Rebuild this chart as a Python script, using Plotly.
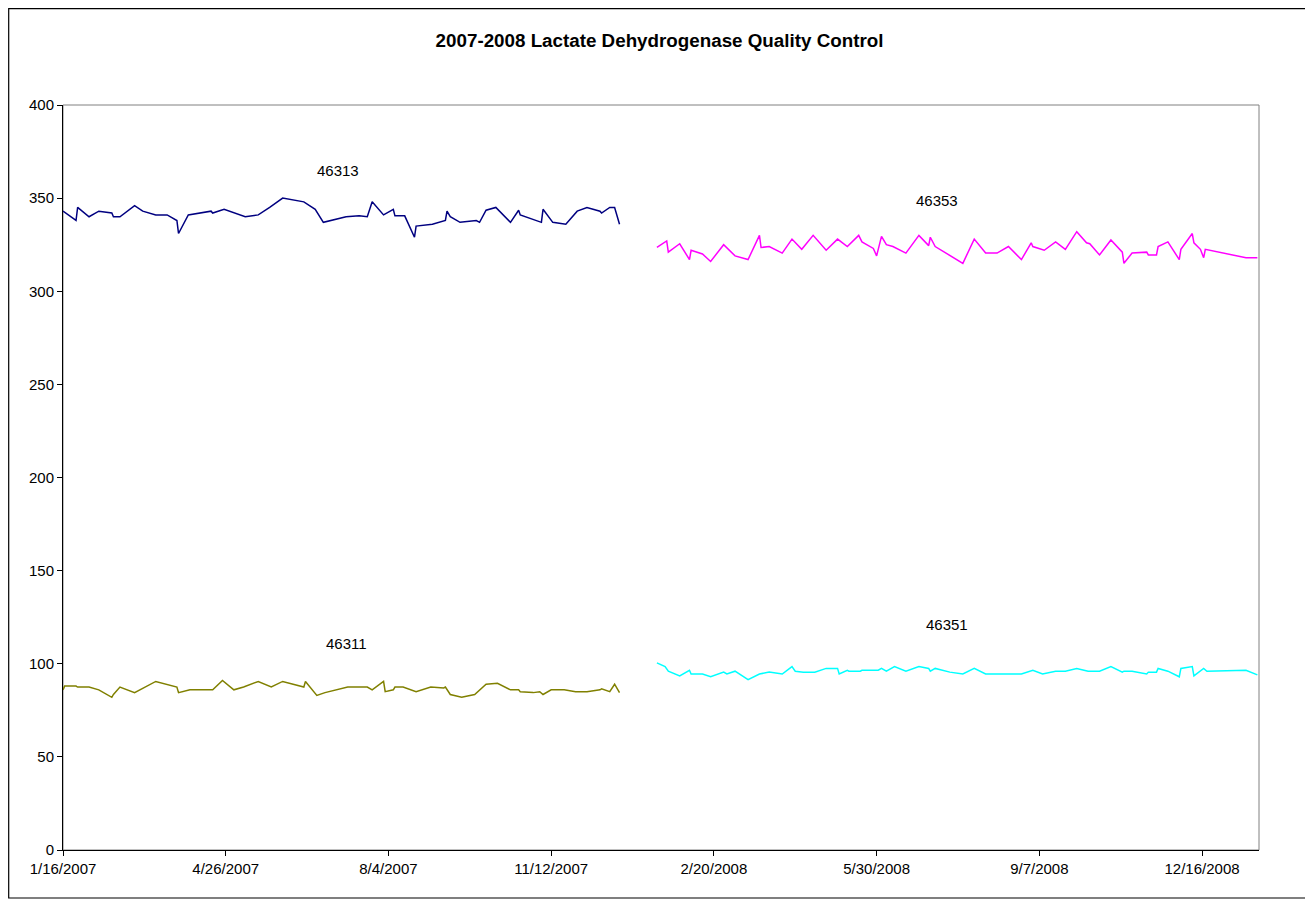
import pandas as pd
import plotly.graph_objects as go

# ---- data (days since 1/16/2007) ----
base_date = "2007-01-16"

days_46313 = [0, 8, 9, 16, 22, 30, 31, 35, 44, 49, 57, 64, 70, 71, 77, 91, 92, 99, 112, 120,
              127, 135, 148, 155, 160, 174, 182, 187, 190, 197, 203, 204, 210, 216, 217, 227,
              235, 236, 238, 244, 254, 256, 260, 266, 275, 280, 281, 294, 295, 301, 309, 316,
              322, 330, 331, 336, 339, 342]
vals_46313 = [343, 338, 345, 340, 343, 342, 340, 340, 346, 343, 341, 341, 338, 331, 341, 343, 342,
              344, 340, 341, 345, 350, 348, 344, 337, 340, 340.5, 340, 348, 341, 344, 340.5, 340.5,
              329, 335, 336, 338, 343, 340, 337, 338, 337, 343.5, 345, 337, 343.5, 341, 337, 344,
              337, 336, 343, 345, 343, 342, 345, 345, 336]

days_46353 = [365, 371, 372, 379, 385, 386, 393, 398, 406, 413, 421, 428, 429, 434, 442, 448, 454,
              461, 469, 476, 482, 489, 491, 498, 500, 503, 506, 510, 518, 526, 532, 533, 536, 545,
              553, 560, 567, 574, 581, 589, 595, 596, 603, 610, 616, 623, 629, 631, 637, 644, 651,
              652, 657, 666, 667, 672, 673, 679, 686, 687, 694, 695, 699, 701, 702, 727, 734]
vals_46353 = [323.5, 327, 321, 325.5, 317, 322, 320, 316, 325, 319, 317, 330, 323.5, 324, 320.5,
              328, 322.5, 330, 322, 328, 324, 330, 326.5, 323, 319, 329.5, 325, 324, 320.5, 330,
              324.5, 329, 324, 319, 315, 328, 320.5, 320.5, 324, 317, 326, 324, 322, 326.5, 322.5,
              332, 326, 325.5, 319.5, 327.5, 321, 315, 320.5, 321, 319.5, 319.5, 324, 326.5, 317,
              322.5, 331, 326, 322.5, 318, 322.5, 318, 318]

days_46311 = [0, 1, 8, 9, 16, 22, 30, 31, 35, 44, 57, 70, 71, 78, 92, 98, 105, 111, 120, 128, 135,
              148, 149, 156, 161, 175, 187, 190, 197, 198, 203, 204, 209, 217, 226, 234, 235, 238,
              245, 253, 260, 267, 275, 280, 281, 289, 293, 295, 300, 308, 315, 322, 330, 331, 336,
              339, 342]
vals_46311 = [86, 88, 88, 87.5, 87.5, 86, 82, 83.5, 87.5, 84.5, 90.5, 87.5, 84.5, 86, 86, 91, 86,
              87.5, 90.5, 87.5, 90.5, 87.5, 90.5, 83, 84.5, 87.5, 87.5, 86, 90.5, 85, 86, 87.5,
              87.5, 85, 87.5, 87, 87.5, 83.5, 82, 83.5, 89, 89.5, 86, 86, 85, 84.5, 85, 83.5, 86,
              86, 85, 85, 86, 86.5, 85, 89, 84.5]

days_46351 = [365, 370, 372, 379, 385, 386, 393, 398, 406, 408, 413, 421, 428, 434, 442, 448, 450,
              455, 462, 469, 476, 477, 482, 483, 490, 491, 501, 503, 506, 511, 518, 526, 532, 533,
              536, 545, 553, 560, 567, 589, 596, 602, 610, 616, 623, 630, 637, 644, 651, 652, 657,
              666, 667, 672, 673, 679, 686, 687, 694, 695, 701, 703, 727, 734]
vals_46351 = [100.5, 98.5, 96, 93.5, 96.5, 94.5, 94.5, 93, 95.5, 94.5, 96, 91.5, 94.5, 95.5, 94.5,
              98.5, 96, 95.5, 95.5, 97.5, 97.5, 94.5, 96.5, 96, 96, 96.5, 96.5, 97.5, 96, 98.5, 96,
              98.5, 97.5, 96, 97.5, 95.5, 94.5, 97.5, 94.5, 94.5, 96.5, 94.5, 96, 96, 97.5, 96, 96,
              98.5, 95.5, 96, 96, 94.5, 95.5, 95.5, 97.5, 96, 93, 97.5, 98.5, 93.5, 97.5, 96, 96.5,
              94]

tick_labels = ["1/16/2007", "4/26/2007", "8/4/2007", "11/12/2007",
               "2/20/2008", "5/30/2008", "9/7/2008", "12/16/2008"]
y_ticks = [0, 50, 100, 150, 200, 250, 300, 350, 400]

series = [
    ("46313", days_46313, vals_46313, "#000080"),
    ("46353", days_46353, vals_46353, "#FF00FF"),
    ("46311", days_46311, vals_46311, "#808000"),
    ("46351", days_46351, vals_46351, "#00FFFF"),
]

base = pd.Timestamp(base_date)


def to_dates(days):
    return base + pd.to_timedelta(days, unit="D")


fig = go.Figure()
for name, d, v, c in series:
    fig.add_trace(go.Scatter(x=to_dates(d), y=v, mode="lines", name=name,
                             line=dict(color=c, width=1.5), showlegend=False))

tick_vals = [base + pd.Timedelta(days=100 * i) for i in range(len(tick_labels))]

FONT = "Liberation Sans, Arial, sans-serif"
W, H = 1305, 892
L, R, T, B = 55, 54, 97, 50
PW, PH = W - L - R, H - T - B

fig.update_layout(
    width=W, height=H,
    paper_bgcolor="white", plot_bgcolor="white",
    margin=dict(l=L, r=R, t=T, b=B, autoexpand=False),
    title=dict(text="<b>2007-2008 Lactate Dehydrogenase Quality Control</b>",
               x=651.5 / W, xanchor="center", y=1 - 32 / H, yanchor="middle",
               font=dict(family=FONT, size=18.8, color="black")),
    font=dict(family=FONT, size=15, color="black"),
    xaxis=dict(type="date", range=[base, base + pd.Timedelta(days=735)],
               tickvals=tick_vals, ticktext=tick_labels,
               showgrid=False, zeroline=False, showline=True, linecolor="black", linewidth=1,
               ticks="outside", ticklen=5, tickcolor="black",
               tickfont=dict(family=FONT, size=15, color="black")),
    yaxis=dict(range=[0, 400], tickvals=y_ticks, showgrid=False, zeroline=False,
               showline=True, linecolor="black", linewidth=1,
               ticks="outside", ticklen=5, tickcolor="black",
               tickfont=dict(family=FONT, size=15, color="black")),
)

# plot-area border (gray) and outer chart border (black)
fig.add_shape(type="rect", xref="paper", yref="paper", x0=0, x1=1, y0=0, y1=1,
              line=dict(color="#808080", width=1), layer="below")
fig.add_shape(type="rect", xref="paper", yref="paper",
              x0=(0.7 - L) / PW, x1=(1301 - L) / PW,
              y0=(T + PH - 890) / PH, y1=(T + PH - 0.7) / PH,
              line=dict(color="black", width=1.2), layer="below")

labels = [("46313", "2007-07-04", 364.6), ("46353", "2008-07-06", 348.5),
          ("46311", "2007-07-09", 111), ("46351", "2008-07-12", 121.2)]
for txt, x, y in labels:
    fig.add_annotation(x=x, y=y, text=txt, showarrow=False,
                       font=dict(family=FONT, size=15, color="black"))

fig.write_html("out.html")
